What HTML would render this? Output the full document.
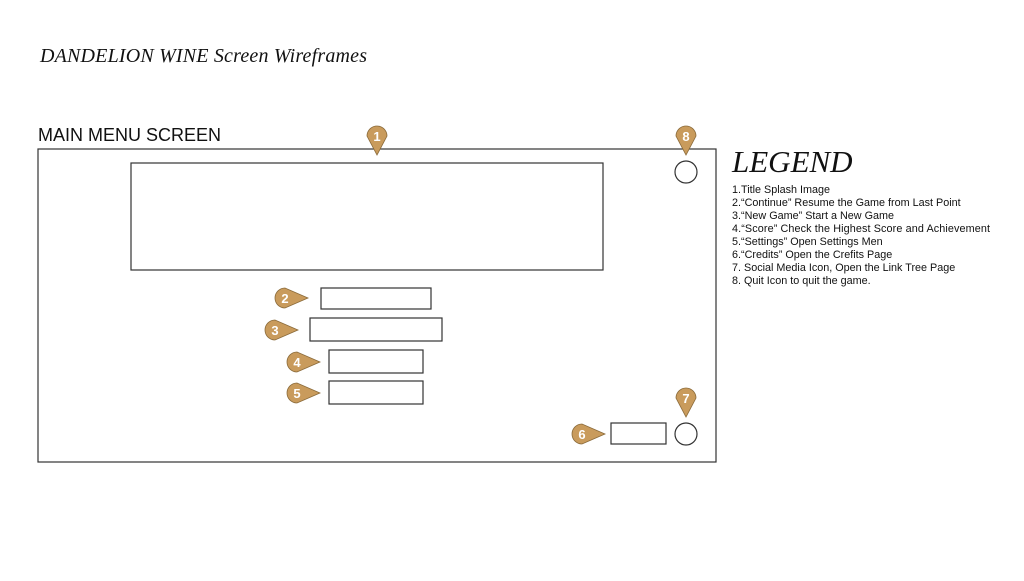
<!DOCTYPE html>
<html><head><meta charset="utf-8"><style>
body{margin:0;background:#fff;width:1024px;height:576px;overflow:hidden}
</style></head><body>
<svg width="1024" height="576" xmlns="http://www.w3.org/2000/svg">
<defs>
<g id="pd"><path d="M-10,0 A10,10 0 1 1 10,0 L0,19 Z" fill="#c99b5c" stroke="#8a6a3a" stroke-width="0.8"/></g>
<g id="pr"><path d="M0,-10 A10,10 0 1 0 0,10 L23,0 Z" fill="#c99b5c" stroke="#8a6a3a" stroke-width="0.8"/></g>
</defs>
<text x="40" y="62" font-family="Liberation Serif, serif" font-style="italic" font-size="20" fill="#111" textLength="327">DANDELION WINE Screen Wireframes</text>
<text x="38" y="141" font-family="Liberation Sans, sans-serif" font-size="18" fill="#111">MAIN MENU SCREEN</text>
<g fill="none" stroke="#333" stroke-width="1.2">
<rect x="38" y="149" width="678" height="313"/>
<rect x="131" y="163" width="472" height="107"/>
<rect x="321" y="288" width="110" height="21"/>
<rect x="310" y="318" width="132" height="23"/>
<rect x="329" y="350" width="94" height="23"/>
<rect x="329" y="381" width="94" height="23"/>
<rect x="611" y="423" width="55" height="21"/>
<circle cx="686" cy="172" r="11"/>
<circle cx="686" cy="434" r="11"/>
</g>
<g font-family="Liberation Sans, sans-serif" font-weight="bold" font-size="13" fill="#fff" text-anchor="middle">
<use href="#pd" x="377" y="136"/><text x="377" y="141">1</text>
<use href="#pd" x="686" y="136"/><text x="686" y="141">8</text>
<use href="#pd" x="686" y="398"/><text x="686" y="403">7</text>
<use href="#pr" x="285" y="298"/><text x="285" y="303">2</text>
<use href="#pr" x="275" y="330"/><text x="275" y="335">3</text>
<use href="#pr" x="297" y="362"/><text x="297" y="367">4</text>
<use href="#pr" x="297" y="393"/><text x="297" y="398">5</text>
<use href="#pr" x="582" y="434"/><text x="582" y="439">6</text>
</g>
<text x="732" y="172" font-family="Liberation Serif, serif" font-style="italic" font-size="31" fill="#111">LEGEND</text>
<g font-family="Liberation Sans, sans-serif" font-size="10.8" fill="#111">
<text x="732" y="193">1.Title Splash Image</text>
<text x="732" y="206">2.“Continue” Resume the Game from Last Point</text>
<text x="732" y="219">3.“New Game” Start a New Game</text>
<text x="732" y="232" textLength="258">4.“Score” Check the Highest Score and Achievement</text>
<text x="732" y="245">5.“Settings” Open Settings Men</text>
<text x="732" y="258">6.“Credits” Open the Crefits Page</text>
<text x="732" y="271">7. Social Media Icon, Open the Link Tree Page</text>
<text x="732" y="284">8. Quit Icon to quit the game.</text>
</g>
</svg>
</body></html>
